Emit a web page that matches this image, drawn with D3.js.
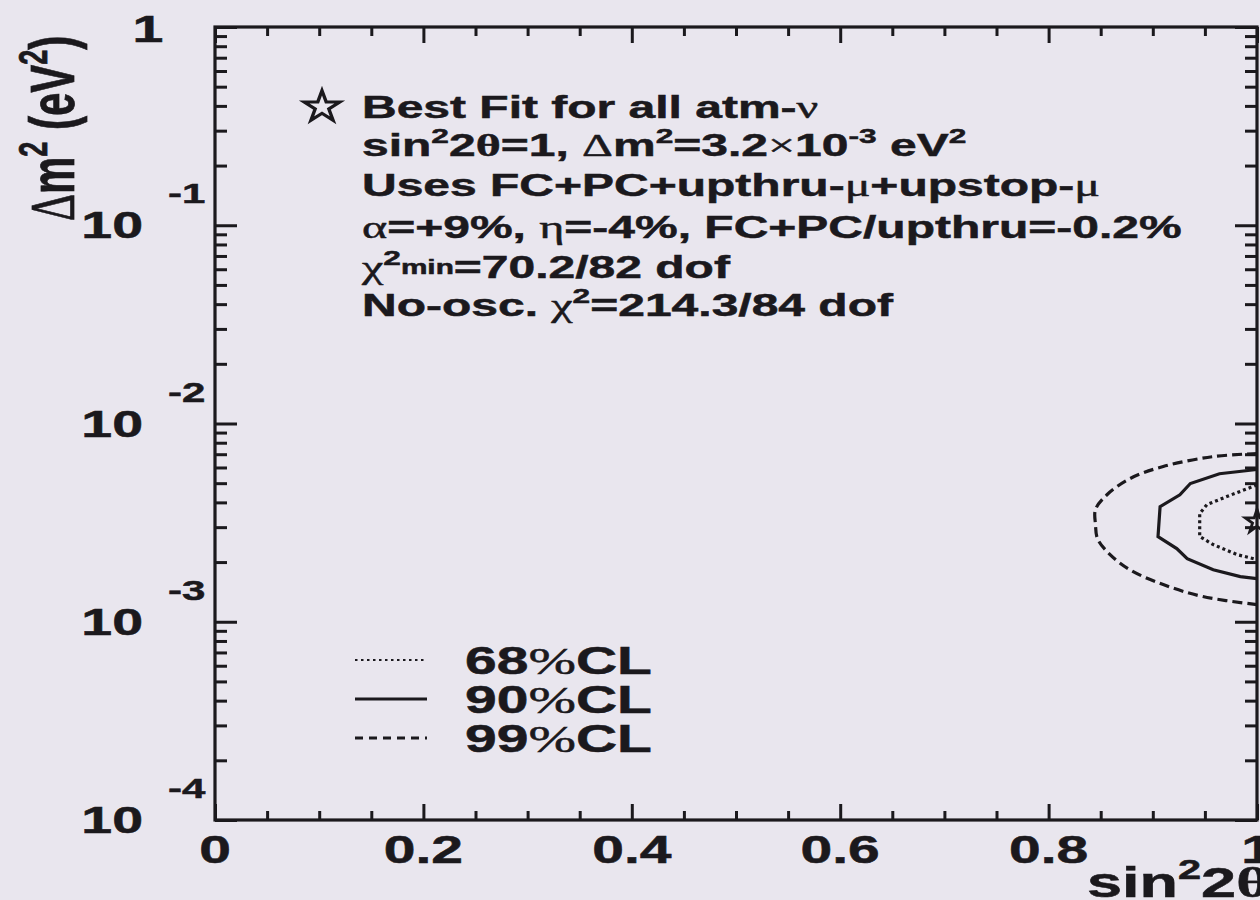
<!DOCTYPE html>
<html>
<head>
<meta charset="utf-8">
<script src="https://cdn.jsdelivr.net/npm/d3@7"></script>
<style>
  html, body { margin: 0; padding: 0; background: #e9e6ee; }
  svg { display: block; }
  text { white-space: pre; }
</style>
</head>
<body>
<svg width="1260" height="900"></svg>
<script>
// ---- data ----
const xMajorTicks = [0, 0.2, 0.4, 0.6, 0.8, 1];
const xTickLabels = ["0", "0.2", "0.4", "0.6", "0.8", "1"];
const yDecades = [1e-4, 1e-3, 1e-2, 1e-1];
const yExponents = ["-4", "-3", "-2", "-1"];

const bestFit = { sin2: 1.0, dm2: 3.2e-3 };

const cl68_sin2 = [1.0, 0.971, 0.952, 0.945, 0.945, 0.958, 0.981, 1.0];
const cl68_dm2  = [4.9e-3, 4.28e-3, 3.9e-3, 3.51e-3, 2.69e-3, 2.45e-3, 2.18e-3, 2.06e-3];

const cl90_sin2 = [1.0, 0.964, 0.936, 0.926, 0.907, 0.905, 0.923, 0.933, 0.958, 0.984, 1.0];
const cl90_dm2  = [5.86e-3, 5.58e-3, 4.98e-3, 4.37e-3, 3.81e-3, 2.69e-3, 2.34e-3, 2.08e-3, 1.83e-3, 1.69e-3, 1.65e-3];

const cl99_sin2 = [1.0, 0.958, 0.910, 0.878, 0.856, 0.845, 0.845, 0.847, 0.859, 0.878, 0.910, 0.948, 1.0];
const cl99_dm2  = [7.05e-3, 6.81e-3, 6.07e-3, 5.27e-3, 4.37e-3, 3.68e-3, 3.09e-3, 2.62e-3, 2.18e-3, 1.83e-3, 1.54e-3, 1.34e-3, 1.22e-3];

const legendLabels = ["68", "90", "99"];

// info box lines (rich text parts)
const infoLines = [
  [{t: "Best Fit for all atm-"}, {t: "ν", greek: true}],
  [{t: "sin"}, {t: "2", sup: true}, {t: "2"}, {t: "θ", greek: true, bold: true}, {t: "=1, "}, {t: "Δ", greek: true},
   {t: "m"}, {t: "2", sup: true}, {t: "=3.2"}, {t: "×", greek: true}, {t: "10"}, {t: "-3", sup: true}, {t: " eV"}, {t: "2", sup: true}],
  [{t: "Uses FC+PC+upthru-"}, {t: "μ", greek: true}, {t: "+upstop-"}, {t: "μ", greek: true}],
  [{t: "α", greek: true}, {t: "=+9%, "}, {t: "η", greek: true}, {t: "=-4%, FC+PC/upthru=-0.2%"}],
  [{t: "χ", greek: true}, {t: "2", sup: true}, {t: "min", small: true}, {t: "=70.2/82 dof"}],
  [{t: "No-osc. "}, {t: "χ", greek: true}, {t: "2", sup: true}, {t: "=214.3/84 dof"}]
];
const infoBaselines = [118, 156, 196, 238, 278, 316];

// ---- layout ----
const SX = 1.5;              // picture is stretched horizontally
const ink = "#1b191d";
const sans = "'Liberation Sans', Arial, sans-serif";
const serif = "'Liberation Serif', 'DejaVu Serif', serif";

const plotLeft = 215, plotRight = 1257, plotTop = 27, plotBottom = 820;

const svg = d3.select("svg");

const x = d3.scaleLinear().domain([0, 1]).range([plotLeft, plotRight]);
const y = d3.scaleLog().domain([1e-4, 1]).range([plotBottom, plotTop]);

// ---- ticks ----
const xMinor = d3.range(0, 1.0001, 0.05).filter(v => Math.abs(v / 0.2 - Math.round(v / 0.2)) > 1e-6);
const yMinor = [];
yDecades.forEach(d => { for (let k = 2; k <= 9; k++) yMinor.push(d * k); });
const yMajor = yDecades.concat([1]);

function styleAxis(g) {
  g.select(".domain").remove();
  g.selectAll("line").attr("stroke", ink).attr("stroke-width", 3);
}

svg.append("g").attr("transform", `translate(0,${plotBottom})`)
  .call(d3.axisBottom(x).tickValues(xMinor).tickSize(-9).tickFormat("")).call(styleAxis);
svg.append("g").attr("transform", `translate(0,${plotBottom})`)
  .call(d3.axisBottom(x).tickValues(xMajorTicks).tickSize(-16).tickFormat("")).call(styleAxis);
svg.append("g").attr("transform", `translate(0,${plotTop})`)
  .call(d3.axisTop(x).tickValues(xMinor).tickSize(-9).tickFormat("")).call(styleAxis);
svg.append("g").attr("transform", `translate(0,${plotTop})`)
  .call(d3.axisTop(x).tickValues(xMajorTicks).tickSize(-16).tickFormat("")).call(styleAxis);

svg.append("g").attr("transform", `translate(${plotLeft},0)`)
  .call(d3.axisLeft(y).tickValues(yMinor).tickSize(-12).tickFormat("")).call(styleAxis);
svg.append("g").attr("transform", `translate(${plotLeft},0)`)
  .call(d3.axisLeft(y).tickValues(yMajor).tickSize(-22).tickFormat("")).call(styleAxis);
svg.append("g").attr("transform", `translate(${plotRight},0)`)
  .call(d3.axisRight(y).tickValues(yMinor).tickSize(-12).tickFormat("")).call(styleAxis);
svg.append("g").attr("transform", `translate(${plotRight},0)`)
  .call(d3.axisRight(y).tickValues(yMajor).tickSize(-22).tickFormat("")).call(styleAxis);

// frame
svg.append("rect")
  .attr("x", plotLeft).attr("y", plotTop)
  .attr("width", plotRight - plotLeft).attr("height", plotBottom - plotTop)
  .attr("fill", "none").attr("stroke", ink).attr("stroke-width", 3.2);

// ---- rich text helper ----
function rich(px, py, parts, size, anchor) {
  const t = svg.append("text")
    .attr("transform", `translate(${px},${py}) scale(${SX},1)`)
    .attr("font-family", sans).attr("font-weight", "bold")
    .attr("font-size", size).attr("fill", ink)
    .attr("stroke", ink).attr("stroke-width", 0.5)
    .attr("text-anchor", anchor || "start");
  let cur = 0;
  parts.forEach(p => {
    const raise = p.sup ? size * 0.42 : (p.small ? size * 0.12 : 0);
    const s = t.append("tspan").text(p.t).attr("dy", cur - raise);
    cur = raise;
    if (p.sup) s.attr("font-size", size * 0.66);
    if (p.small) s.attr("font-size", size * 0.62);
    if (p.greek) s.attr("font-family", serif).attr("font-weight", p.bold ? "bold" : "normal");
  });
  return t;
}

// x tick labels
xMajorTicks.forEach((v, i) => {
  rich(x(v), 863, [{t: xTickLabels[i]}], 38, "middle");
});

// y tick labels
yDecades.forEach((v, i) => {
  rich(143, y(v) + 13, [{t: "10"}], 37, "end");
  rich(168, y(v) - 22, [{t: yExponents[i]}], 28, "start");
});
rich(148, y(1) + 15, [{t: "1"}], 37, "middle");

// axis titles
rich(1087, 897, [{t: "sin"}, {t: "2", sup: true}, {t: "2"}, {t: "θ", greek: true, bold: true}], 42, "start");

svg.append("text")
  .attr("transform", `translate(74,221) scale(${SX},1) rotate(-90)`)
  .attr("font-family", sans).attr("font-weight", "bold").attr("font-size", 42).attr("fill", ink)
  .attr("stroke", ink).attr("stroke-width", 0.5)
  .call(t => {
    t.append("tspan").text("Δ").attr("font-family", serif).attr("font-weight", "normal");
    t.append("tspan").text("m");
    t.append("tspan").text("2").attr("font-size", 27).attr("dy", -18);
    t.append("tspan").text(" (eV").attr("dy", 18);
    t.append("tspan").text("2").attr("font-size", 27).attr("dy", -18);
    t.append("tspan").text(")").attr("dy", 18);
  });

// ---- contours ----
svg.append("clipPath").attr("id", "plotclip")
  .append("rect").attr("x", plotLeft).attr("y", plotTop)
  .attr("width", plotRight - plotLeft).attr("height", plotBottom - plotTop);

const line = d3.line().x(d => x(d[0])).y(d => y(d[1]));
const contours = [
  { s: cl99_sin2, m: cl99_dm2, dash: "10,5", curve: d3.curveCatmullRom },
  { s: cl90_sin2, m: cl90_dm2, dash: null, curve: d3.curveLinear },
  { s: cl68_sin2, m: cl68_dm2, dash: "3,3", curve: d3.curveLinear }
];
const cg = svg.append("g").attr("clip-path", "url(#plotclip)");
contours.forEach(c => {
  const pts = c.s.map((v, i) => [v, c.m[i]]);
  cg.append("path")
    .attr("d", line.curve(c.curve)(pts))
    .attr("fill", "none").attr("stroke", ink).attr("stroke-width", 3.2)
    .attr("stroke-dasharray", c.dash);
});

// best fit star
svg.append("path")
  .attr("d", d3.symbol(d3.symbolStar, 170)())
  .attr("transform", `translate(${x(bestFit.sin2)},${y(bestFit.dm2)})`)
  .attr("fill", "none").attr("stroke", ink).attr("stroke-width", 2.8);

// ---- info box ----
svg.append("path")
  .attr("d", d3.symbol(d3.symbolStar, 300)())
  .attr("transform", `translate(322,107) scale(1.15,1)`)
  .attr("fill", "none").attr("stroke", ink).attr("stroke-width", 3);

infoLines.forEach((parts, i) => rich(362, infoBaselines[i], parts, 32, "start"));

// ---- legend ----
const legendY = [660, 699, 738];
const legendDash = ["2.5,3.5", null, "8,6"];
const legendW = [2.2, 3.2, 3.2];
legendLabels.forEach((lab, i) => {
  svg.append("line")
    .attr("x1", 355).attr("x2", 427)
    .attr("y1", legendY[i]).attr("y2", legendY[i])
    .attr("stroke", ink).attr("stroke-width", legendW[i])
    .attr("stroke-dasharray", legendDash[i]);
  rich(465, legendY[i] + 14, [{t: lab}, {t: "%", greek: true}, {t: "CL"}], 38, "start");
});
</script>
</body>
</html>
